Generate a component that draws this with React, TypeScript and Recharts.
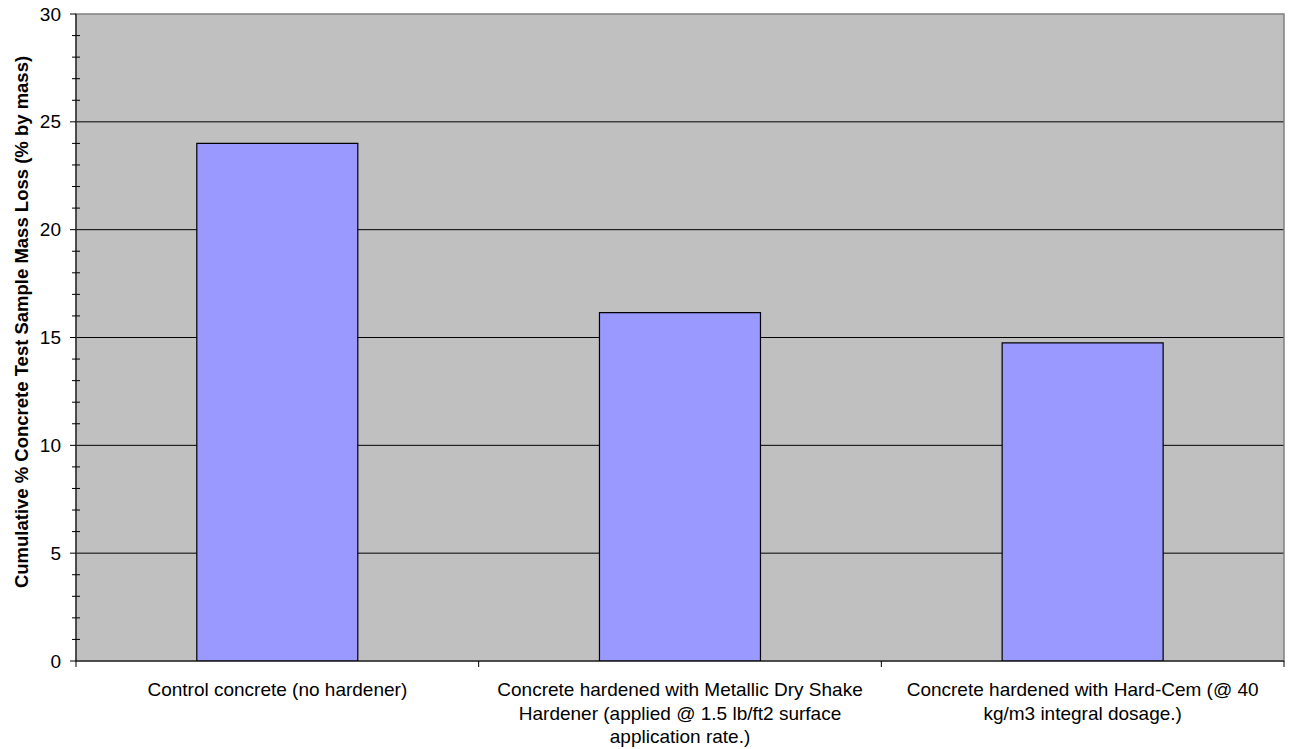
import React from "react";
import {
  BarChart,
  Bar,
  XAxis,
  YAxis,
  CartesianGrid,
  ReferenceArea,
} from "recharts";

// ---- data ----
const categories = [
  "Control concrete (no hardener)",
  "Concrete hardened with Metallic Dry Shake\nHardener (applied @ 1.5 lb/ft2 surface\napplication rate.)",
  "Concrete hardened with Hard-Cem (@ 40\nkg/m3 integral dosage.)",
];
const massLoss = [24.0, 16.15, 14.75];
const majorTicks = [0, 5, 10, 15, 20, 25, 30];
const minorTicks = [1, 2, 3, 4, 6, 7, 8, 9, 11, 12, 13, 14, 16, 17, 18, 19, 21, 22, 23, 24, 26, 27, 28, 29];
const gridValues = [5, 10, 15, 20, 25];
const yAxisTitle = "Cumulative % Concrete Test Sample Mass Loss (% by mass)";

const data = categories.map((name, i) => ({ name, value: massLoss[i] }));
const allTicks = [...majorTicks, ...minorTicks].sort((a, b) => a - b);

// ---- layout ----
const W = 1290;
const H = 749;
const MARGIN = { top: 14, right: 6, left: 0, bottom: 0 };
const Y_W = 76;
const X_H = 88;
const PLOT_W = W - MARGIN.left - MARGIN.right - Y_W;
const BAND = PLOT_W / categories.length;
const FONT = "'Liberation Sans', Arial, Helvetica, sans-serif";

const YTick = (props: any) => {
  const { x, y, payload } = props;
  const v = payload.value;
  if (majorTicks.includes(v)) {
    return (
      <g>
        <line x1={x - 6} x2={x} y1={y} y2={y} stroke="#000" strokeWidth={1} />
        <text
          x={x - 15}
          y={y}
          dy="0.35em"
          textAnchor="end"
          fontSize={19}
          fontFamily={FONT}
          fill="#000"
        >
          {v}
        </text>
      </g>
    );
  }
  return <line x1={x - 4} x2={x + 4} y1={y} y2={y} stroke="#000" strokeWidth={1} />;
};

const XTick = (props: any) => {
  const { x, y, payload, index } = props;
  const lines = String(payload.value).split("\n");
  return (
    <g>
      <line x1={x - BAND / 2} x2={x - BAND / 2} y1={y} y2={y + 6} stroke="#000" />
      {index === categories.length - 1 && (
        <line x1={x + BAND / 2} x2={x + BAND / 2} y1={y} y2={y + 6} stroke="#000" />
      )}
      <text
        x={x}
        y={y + 35}
        textAnchor="middle"
        fontSize={19}
        fontFamily={FONT}
        fill="#000"
      >
        {lines.map((ln, i) => (
          <tspan key={i} x={x} dy={i === 0 ? 0 : 23.5}>
            {ln}
          </tspan>
        ))}
      </text>
    </g>
  );
};

export default function App() {
  return (
    <div style={{ position: "absolute", left: 0, top: 0, width: W, height: H, overflow: "visible" }}>
      <BarChart width={W} height={H} data={data} margin={MARGIN} barCategoryGap="30%" style={{ overflow: "visible" }}>
        <CartesianGrid
          vertical={false}
          horizontalValues={gridValues}
          stroke="#000"
          fill="#C0C0C0"
          fillOpacity={1}
        />
        <XAxis
          dataKey="name"
          height={X_H}
          interval={0}
          tickLine={false}
          tickSize={0}
          tickMargin={0}
          axisLine={{ stroke: "#000" }}
          tick={<XTick />}
        />
        <YAxis
          width={Y_W}
          domain={[0, 30]}
          ticks={allTicks}
          interval={0}
          tickLine={false}
          tickSize={0}
          tickMargin={0}
          axisLine={{ stroke: "#000" }}
          tick={<YTick />}
          allowDataOverflow
        />
        <ReferenceArea y1={0} y2={30} fill="none" stroke="#808080" strokeWidth={1.5} ifOverflow="visible" />
        <Bar
          dataKey="value"
          fill="#9999FF"
          stroke="#000"
          strokeWidth={1.2}
          isAnimationActive={false}
        />
        <text
          x={21}
          y={322}
          transform="rotate(-90, 21, 322)"
          textAnchor="middle"
          dominantBaseline="central"
          fontSize={18.5}
          fontWeight="bold"
          fontFamily={FONT}
          fill="#000"
        >
          {yAxisTitle}
        </text>
      </BarChart>
    </div>
  );
}
